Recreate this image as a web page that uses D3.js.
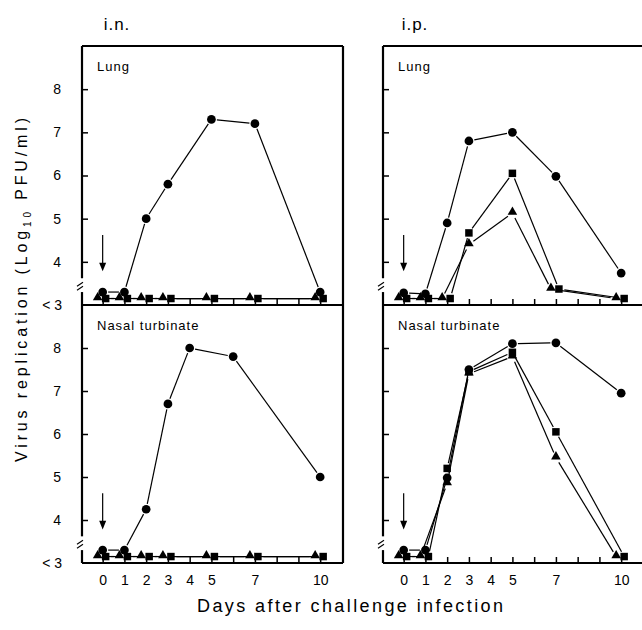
<!DOCTYPE html>
<html>
<head>
<meta charset="utf-8">
<script src="https://cdn.jsdelivr.net/npm/d3@7"></script>
<style>
  body { margin: 0; background: #fff; }
  svg { display: block; font-family: "Liberation Sans", Arial, sans-serif; }
</style>
</head>
<body>
<div id="chart"></div>
<script>
// values (log10 PFU/ml); 3.15 = below detection (<3)
const days = [0, 1, 2, 3, 5, 7, 10];
const dayTicks = [0, 1, 2, 3, 4, 5, 6, 7, 8, 9, 10];
const dayLabels = [0, 1, 2, 3, 4, 5, 7, 10];
const yTicks = [4, 5, 6, 7, 8];

// i.n. lung
const inLungCircle = [3.3, 3.3, 5.0, 5.8, 7.3, 7.2, 3.3];
const inLungSquare = [3.15, 3.15, 3.15, 3.15, 3.15, 3.15, 3.15];
const inLungTriangle = [3.15, 3.15, 3.15, 3.15, 3.15, 3.15, 3.15];

// i.n. nasal turbinate (circle series read at its own days)
const inNasalCircleDays = [0, 1, 2, 3, 4, 6, 10];
const inNasalCircle = [3.3, 3.3, 4.25, 6.7, 8.0, 7.8, 5.0];
const inNasalSquare = [3.15, 3.15, 3.15, 3.15, 3.15, 3.15, 3.15];
const inNasalTriangle = [3.15, 3.15, 3.15, 3.15, 3.15, 3.15, 3.15];

// i.p. lung
const ipLungCircle = [3.28, 3.26, 4.9, 6.8, 7.0, 5.98, 3.74];
const ipLungSquare = [3.15, 3.15, 3.15, 4.67, 6.05, 3.37, 3.15];
const ipLungTriangle = [3.15, 3.15, 3.15, 4.4, 5.13, 3.37, 3.15];

// i.p. nasal turbinate
const ipNasalCircle = [3.3, 3.3, 4.98, 7.5, 8.1, 8.12, 6.95];
const ipNasalSquare = [3.15, 3.15, 5.2, 7.45, 7.9, 6.05, 3.15];
const ipNasalTriangle = [3.15, 3.15, 4.85, 7.4, 7.8, 5.45, 3.15];

const W = 642, H = 630;
const panelW = 261;
const yTop = 46, yMid = 305, yBottom = 563;

const svg = d3.select("#chart").append("svg")
  .attr("width", W)
  .attr("height", H);

const zip = (xs, ys) => xs.map((d, i) => ({ day: d, v: ys[i] }));

const panels = [
  { left: 82, y0: yTop, y1: yMid, label: "Lung", labels: true, xlab: false,
    series: [
      { shape: "triangle", pts: zip(days, inLungTriangle) },
      { shape: "square", pts: zip(days, inLungSquare) },
      { shape: "circle", pts: zip(days, inLungCircle) }
    ] },
  { left: 82, y0: yMid, y1: yBottom, label: "Nasal turbinate", labels: true, xlab: true,
    series: [
      { shape: "triangle", pts: zip(days, inNasalTriangle) },
      { shape: "square", pts: zip(days, inNasalSquare) },
      { shape: "circle", pts: zip(inNasalCircleDays, inNasalCircle) }
    ] },
  { left: 383, y0: yTop, y1: yMid, label: "Lung", labels: false, xlab: false,
    series: [
      { shape: "triangle", pts: zip(days, ipLungTriangle) },
      { shape: "square", pts: zip(days, ipLungSquare) },
      { shape: "circle", pts: zip(days, ipLungCircle) }
    ] },
  { left: 383, y0: yMid, y1: yBottom, label: "Nasal turbinate", labels: false, xlab: true,
    series: [
      { shape: "triangle", pts: zip(days, ipNasalTriangle) },
      { shape: "square", pts: zip(days, ipNasalSquare) },
      { shape: "circle", pts: zip(days, ipNasalCircle) }
    ] }
];

// small sideways shift so overlapping low markers sit side by side
function shift(shape, v) {
  if (v > 3.4) return 0;
  return shape === "triangle" ? -5 : shape === "square" ? 3 : 0;
}

panels.forEach(p => {
  const x = d3.scaleLinear().domain([-0.95, 11.05]).range([p.left, p.left + panelW]);
  const y = d3.scaleLinear().domain([3, 9]).range([p.y1, p.y0]);
  const g = svg.append("g");

  // y axis ticks (inward)
  const yAxis = d3.axisLeft(y).tickValues(yTicks).tickSizeInner(-6).tickSizeOuter(0)
    .tickFormat(p.labels ? d3.format("d") : "");
  const ya = g.append("g").attr("transform", `translate(${p.left},0)`).call(yAxis);
  ya.select(".domain").remove();
  ya.selectAll(".tick line").attr("stroke-width", 1.5);
  ya.selectAll(".tick text").attr("x", -21).attr("font-size", 14)
    .attr("font-family", "Liberation Sans, Arial, sans-serif");

  // x axis ticks (inward)
  const xAxis = d3.axisBottom(x).tickValues(dayTicks).tickSizeInner(-6).tickSizeOuter(0)
    .tickFormat(d => (p.xlab && dayLabels.includes(d)) ? d : "");
  const xa = g.append("g").attr("transform", `translate(0,${p.y1})`).call(xAxis);
  xa.select(".domain").remove();
  xa.selectAll(".tick line").attr("stroke-width", 1.5);
  xa.selectAll(".tick text").attr("y", 12).attr("font-size", 14)
    .attr("font-family", "Liberation Sans, Arial, sans-serif");

  // frame, left side broken near the bottom
  const fr = g.append("g").attr("stroke", "#000").attr("stroke-width", 2.2).attr("fill", "none");
  fr.append("line").attr("x1", p.left).attr("x2", p.left + panelW).attr("y1", p.y0).attr("y2", p.y0);
  fr.append("line").attr("x1", p.left).attr("x2", p.left + panelW).attr("y1", p.y1).attr("y2", p.y1);
  fr.append("line").attr("x1", p.left + panelW).attr("x2", p.left + panelW).attr("y1", p.y0).attr("y2", p.y1);
  fr.append("line").attr("x1", p.left).attr("x2", p.left).attr("y1", p.y0).attr("y2", y(3.62));
  fr.append("line").attr("x1", p.left).attr("x2", p.left).attr("y1", y(3.3)).attr("y2", p.y1);
  const bk = g.append("g").attr("stroke", "#000").attr("stroke-width", 1.2);
  [-2, 2].forEach(o => {
    bk.append("line")
      .attr("x1", p.left - 5).attr("y1", y(3.46) + 3 + o)
      .attr("x2", p.left + 1).attr("y2", y(3.46) - 1 + o);
  });

  // "<3" label
  if (p.labels) {
    g.append("text").attr("x", p.left - 20).attr("y", y(3)).attr("dy", "0.35em")
      .attr("text-anchor", "end").attr("font-size", 14).text("< 3");
  }

  // panel name
  g.append("text").attr("x", p.left + 15).attr("y", p.y0 + 25)
    .attr("font-size", 13).attr("letter-spacing", 1).text(p.label);

  // arrow at day 0
  const ax = x(0);
  g.append("line").attr("x1", ax).attr("x2", ax).attr("y1", y(4.62)).attr("y2", y(3.95))
    .attr("stroke", "#000").attr("stroke-width", 1.2);
  g.append("path")
    .attr("d", `M${ax - 3.5},${y(3.98)} L${ax + 3.5},${y(3.98)} L${ax},${y(3.78)} Z`)
    .attr("fill", "#000");

  // series lines, drawn as segments with small gaps at the markers
  p.series.forEach(s => {
    const pts = s.pts.map(d => ({ px: x(d.day) + shift(s.shape, d.v), py: y(d.v) }));
    for (let i = 0; i < pts.length - 1; i++) {
      const a = pts[i], b = pts[i + 1];
      const dx = b.px - a.px, dy = b.py - a.py;
      const len = Math.hypot(dx, dy);
      const gap = 5.5;
      if (len <= gap * 2) continue;
      const ux = dx / len, uy = dy / len;
      g.append("line")
        .attr("x1", a.px + ux * gap).attr("y1", a.py + uy * gap)
        .attr("x2", b.px - ux * gap).attr("y2", b.py - uy * gap)
        .attr("stroke", "#000").attr("stroke-width", 1.2);
    }
  });

  // markers
  p.series.forEach(s => {
    const sym = s.shape === "circle" ? d3.symbolCircle
      : s.shape === "square" ? d3.symbolSquare : d3.symbolTriangle;
    const size = s.shape === "circle" ? 60 : s.shape === "square" ? 56 : 40;
    g.selectAll(null).data(s.pts).enter().append("path")
      .attr("d", d3.symbol().type(sym).size(size))
      .attr("transform", d => `translate(${x(d.day) + shift(s.shape, d.v)},${y(d.v) - (s.shape === "triangle" ? 1 : 0)})`)
      .attr("fill", "#000");
  });
});

// titles
svg.append("text").attr("x", 117).attr("y", 30).attr("text-anchor", "middle")
  .attr("font-size", 17).attr("letter-spacing", 1).text("i.n.");
svg.append("text").attr("x", 415).attr("y", 30).attr("text-anchor", "middle")
  .attr("font-size", 17).attr("letter-spacing", 1).text("i.p.");

// y axis title
const yt = svg.append("text")
  .attr("transform", "translate(27,290) rotate(-90)")
  .attr("text-anchor", "middle").attr("font-size", 16)
  .attr("textLength", 344).attr("lengthAdjust", "spacing");
yt.append("tspan").text("Virus  replication  (Log");
yt.append("tspan").attr("font-size", 10).attr("dy", 4).text("10");
yt.append("tspan").attr("dy", -4).text("  PFU/ml)");

// x axis title
svg.append("text").attr("x", 350).attr("y", 612).attr("text-anchor", "middle")
  .attr("font-size", 18).attr("textLength", 306).attr("lengthAdjust", "spacing")
  .text("Days  after  challenge  infection");
</script>
</body>
</html>
